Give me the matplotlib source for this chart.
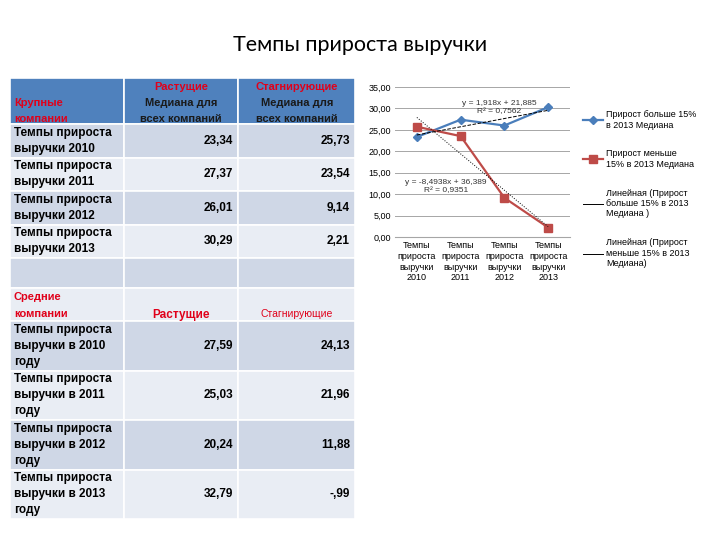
import numpy as np
import matplotlib
matplotlib.use("Agg")
import matplotlib.pyplot as plt
from matplotlib.patches import Rectangle

plt.rcParams["font.family"] = ["Liberation Sans", "DejaVu Sans"]

title = "Темпы прироста выручки"

# large companies
big_rows = ["Темпы прироста\nвыручки 2010", "Темпы прироста\nвыручки 2011",
            "Темпы прироста\nвыручки 2012", "Темпы прироста\nвыручки 2013"]
big_growing = ["23,34", "27,37", "26,01", "30,29"]
big_stagnant = ["25,73", "23,54", "9,14", "2,21"]

# medium companies
mid_rows = ["Темпы прироста\nвыручки в 2010\nгоду", "Темпы прироста\nвыручки в 2011\nгоду",
            "Темпы прироста\nвыручки в 2012\nгоду", "Темпы прироста\nвыручки в 2013\nгоду"]
mid_growing = ["27,59", "25,03", "20,24", "32,79"]
mid_stagnant = ["24,13", "21,96", "11,88", "-,99"]

# chart data
categories = ["Темпы\nприроста\nвыручки\n2010", "Темпы\nприроста\nвыручки\n2011",
              "Темпы\nприроста\nвыручки\n2012", "Темпы\nприроста\nвыручки\n2013"]
growing = [23.34, 27.37, 26.01, 30.29]
stagnant = [25.73, 23.54, 9.14, 2.21]
trend_grow = (1.918, 21.885)
trend_stag = (-8.4938, 36.389)

blue = "#4A7EBB"
red = "#BE4B48"
head_blue = "#4F81BD"
dark_row = "#CFD7E6"
light_row = "#E9EDF4"
red_txt = "#E0001A"

fig = plt.figure(figsize=(7.2, 5.4), dpi=100)
fig.patch.set_facecolor("white")

# slide canvas in pixel coords
bg = fig.add_axes([0, 0, 1, 1])
bg.set_xlim(0, 720)
bg.set_ylim(540, 0)
bg.axis("off")

bg.text(360, 45, title, ha="center", va="center", fontsize=15.5, family=["Lato", "DejaVu Sans"])

cols = [10, 124, 238, 355]
def cell(x0, x1, y0, y1, color):
    bg.add_patch(Rectangle((x0, y0), x1 - x0, y1 - y0, facecolor=color,
                           edgecolor="white", linewidth=1.2))

# header
for i in range(3):
    cell(cols[i], cols[i + 1], 78, 124, head_blue)
bg.text(14, 103, "Крупные", color=red_txt, fontsize=8, fontweight="bold", va="center")
bg.text(14, 119, "компании", color=red_txt, fontsize=8, fontweight="bold", va="center")
for cx, lab in [(181, "Растущие"), (297, "Стагнирующие")]:
    bg.text(cx, 87, lab, color=red_txt, fontsize=8, fontweight="bold", ha="center", va="center")
    bg.text(cx, 103, "Медиана для", color="#1a1a1a", fontsize=8, fontweight="bold",
            ha="center", va="center")
    bg.text(cx, 119, "всех компаний", color="#1a1a1a", fontsize=8, fontweight="bold",
            ha="center", va="center")

# big company rows
row_h = 33.5
for i, lab in enumerate(big_rows):
    y0 = 124 + i * row_h
    color = dark_row if i % 2 == 0 else light_row
    for j in range(3):
        cell(cols[j], cols[j + 1], y0, y0 + row_h, color)
    bg.text(14, y0 + row_h / 2, lab, fontsize=8.5, fontweight="bold", va="center",
            linespacing=1.45)
    bg.text(233, y0 + row_h / 2, big_growing[i], fontsize=8.5, fontweight="bold",
            ha="right", va="center")
    bg.text(350, y0 + row_h / 2, big_stagnant[i], fontsize=8.5, fontweight="bold",
            ha="right", va="center")

# empty row
for j in range(3):
    cell(cols[j], cols[j + 1], 258, 288, dark_row)

# medium header
for j in range(3):
    cell(cols[j], cols[j + 1], 288, 321, light_row)
bg.text(14, 297, "Средние", color=red_txt, fontsize=8, fontweight="bold", va="center")
bg.text(14, 314, "компании", color=red_txt, fontsize=8, fontweight="bold", va="center")
bg.text(181, 315, "Растущие", color=red_txt, fontsize=8.5, fontweight="bold", ha="center", va="center")
bg.text(297, 314, "Стагнирующие", color=red_txt, fontsize=7.5, ha="center", va="center")

mrow_h = 49.5
for i, lab in enumerate(mid_rows):
    y0 = 321 + i * mrow_h
    color = dark_row if i % 2 == 0 else light_row
    for j in range(3):
        cell(cols[j], cols[j + 1], y0, y0 + mrow_h, color)
    bg.text(14, y0 + mrow_h / 2, lab, fontsize=8.5, fontweight="bold", va="center",
            linespacing=1.45)
    bg.text(233, y0 + mrow_h / 2, mid_growing[i], fontsize=8.5, fontweight="bold",
            ha="right", va="center")
    bg.text(350, y0 + mrow_h / 2, mid_stagnant[i], fontsize=8.5, fontweight="bold",
            ha="right", va="center")

# chart
ax = fig.add_axes([395 / 720, (540 - 237) / 540, 175 / 720, 150 / 540])
x = np.arange(1, len(categories) + 1)
ax.plot(x, growing, color=blue, marker="D", markersize=4, linewidth=1.6,
        label="Прирост больше 15%\nв 2013 Медиана")
ax.plot(x, stagnant, color=red, marker="s", markersize=5.5, linewidth=1.6,
        label="Прирост меньше\n15% в 2013 Медиана")
ax.plot(x, trend_grow[0] * x + trend_grow[1], color="black", linestyle="--",
        linewidth=0.7, label="Линейная (Прирост\nбольше 15% в 2013\nМедиана )")
ax.plot(x, trend_stag[0] * x + trend_stag[1], color="black", linestyle=":",
        linewidth=0.7, label="Линейная (Прирост\nменьше 15% в 2013\nМедиана)")

ax.text(2.88, 30.3, "y = 1,918x + 21,885\nR² = 0,7562", fontsize=6, ha="center",
        va="center", color="#333333", linespacing=1.2)
ax.text(1.67, 11.7, "y = -8,4938x + 36,389\nR² = 0,9351", fontsize=6, ha="center",
        va="center", color="#333333", linespacing=1.2)

ax.set_xlim(0.5, 4.5)
ax.set_ylim(0, 35)
ax.set_yticks(np.arange(0, 36, 5))
ax.set_yticklabels([f"{v:.2f}".replace(".", ",") for v in np.arange(0, 36, 5)])
ax.set_xticks(x)
ax.set_xticklabels(categories, fontsize=6.5, linespacing=1.25)
ax.tick_params(axis="y", labelsize=6.5, length=0, pad=3)
ax.tick_params(axis="x", length=0, pad=3)
ax.yaxis.grid(True, color="#A6A6A6", linewidth=0.7)
ax.set_axisbelow(True)
for s in ["top", "right", "left"]:
    ax.spines[s].set_visible(False)
ax.spines["bottom"].set_color("#A6A6A6")

leg = ax.legend(loc="upper left", bbox_to_anchor=(1.03, 0.9), frameon=False,
                fontsize=6.5, labelspacing=2.2, handlelength=2.2, handletextpad=0.3)
for h in leg.get_lines()[2:]:
    h.set_linestyle("-")

fig.savefig("out.png", dpi=100, facecolor="white")
